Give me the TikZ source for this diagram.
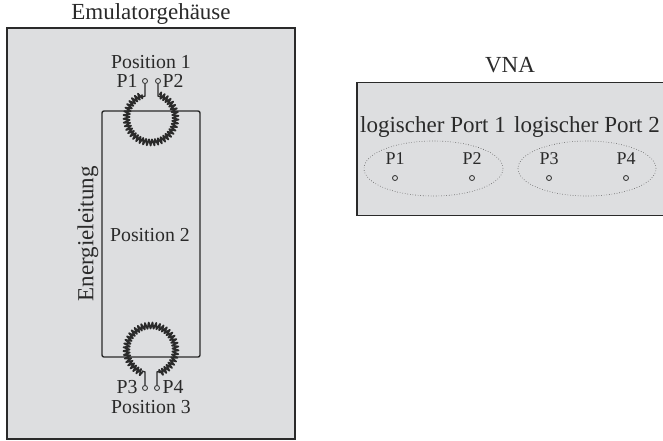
\documentclass[tikz,border=0pt]{standalone}
\usepackage{fontspec}
\setmainfont{Liberation Serif}
\usetikzlibrary{decorations.pathmorphing,shapes.geometric}
\definecolor{panel}{HTML}{DDDEE0}
\definecolor{ink}{HTML}{2A2A2A}
\tikzset{
  panelbox/.style={draw=ink,line width=1.5pt,fill=panel},
  lbl/.style={inner sep=0pt,text=ink,font=\fontsize{19.8}{22}\selectfont},
  biglbl/.style={inner sep=0pt,text=ink,font=\fontsize{23}{25}\selectfont},
  pin/.style={circle,draw=ink,line width=0.8pt,fill=panel,minimum size=5pt,inner sep=0pt},
  wire/.style={draw=ink,line width=1.4pt,rounded corners=2pt},
  lead/.style={draw=ink,line width=1.4pt},
  winding/.style={draw=ink,line width=1.7pt,line join=round,decorate,decoration={zigzag,segment length=3.4pt,amplitude=3.1pt}},
  portring/.style={draw=ink!80,dotted,line width=0.6pt}
}
\begin{document}
\begin{tikzpicture}[x=1pt,y=-1pt]
\useasboundingbox (0,0) rectangle (663,440);
\fill[white] (0,0) rectangle (663,440);
\node[panelbox,minimum width=288pt,minimum height=411pt,inner sep=0pt] (emu) at (151,233.5) {};
\node[panelbox,minimum width=310pt,minimum height=133pt,inner sep=0pt,anchor=west] (vna) at (356,149) {};
\node[biglbl] (emut) at (151,14) {Emulatorgehäuse};
\node[biglbl] (vnat) at (510,65) {VNA};
% conductor loop
\draw[wire] (102,111) rectangle (200,357);
% coils
\coordinate (ct) at (151,118);
\coordinate (cb) at (151,350);
\draw[winding] (ct) ++(-70:24.5) arc[start angle=-70,end angle=-110+360,radius=24.5];
\draw[winding] (cb) ++(70:24.5) arc[start angle=70,end angle=-250,radius=24.5];
% pins
\node[pin] (p1a) at (145,81) {};
\node[pin] (p2a) at (158,81) {};
\node[pin] (p3a) at (145,388) {};
\node[pin] (p4a) at (157,388) {};
\draw[lead] (p1a) -- (145,96) -- (142,97);
\draw[lead] (p2a) -- (158,96) -- (161,97);
\draw[lead] (p3a) -- (145,372) -- (142,371);
\draw[lead] (p4a) -- (157,372) -- (160,371);
% labels
\node[lbl] (pos1) at (151,62) {Position 1};
\node[lbl] (t1) at (127,81) {P1};
\node[lbl] (t2) at (173,81) {P2};
\node[lbl] (pos2) at (150,235) {Position 2};
\node[lbl] (t3) at (127,387) {P3};
\node[lbl] (t4) at (173,387) {P4};
\node[lbl] (pos3) at (151,407) {Position 3};
\node[biglbl,rotate=90] (energy) at (88,234) {Energieleitung};
% VNA
\node[biglbl] (lp1) at (433,127) {logischer Port 1};
\node[biglbl] (lp2) at (587,127) {logischer Port 2};
\node[portring,ellipse,minimum width=139pt,minimum height=55pt,inner sep=0pt] (r1) at (433.5,168.5) {};
\node[portring,ellipse,minimum width=138pt,minimum height=55pt,inner sep=0pt] (r2) at (587,168.5) {};
\foreach \n/\x in {1/395,2/472,3/549,4/626}{
  \node[lbl,font=\fontsize{18}{20}\selectfont] (v\n) at (\x,159) {P\n};
  \node[pin] (vp\n) at (\x,178) {};
}
\end{tikzpicture}
\end{document}
